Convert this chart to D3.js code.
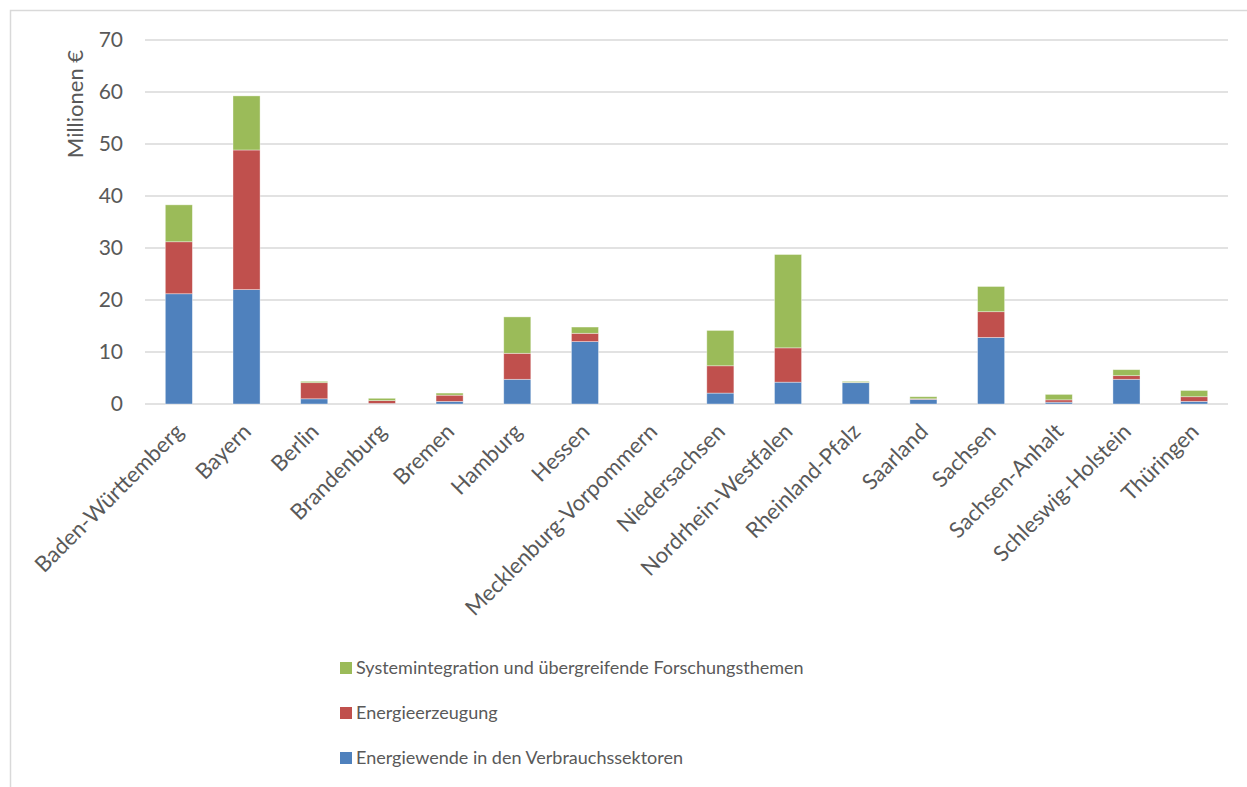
<!DOCTYPE html>
<html>
<head>
<meta charset="utf-8">
<script src="https://cdn.jsdelivr.net/npm/d3@7"></script>
<style>
  body { margin: 0; background: #fff; }
  text { font-family: Lato, "Open Sans", sans-serif; fill: #595959; }
</style>
</head>
<body>
<div id="chart"></div>
<script>
var laender = ["Baden-Württemberg", "Bayern", "Berlin", "Brandenburg", "Bremen", "Hamburg",
  "Hessen", "Mecklenburg-Vorpommern", "Niedersachsen", "Nordrhein-Westfalen", "Rheinland-Pfalz",
  "Saarland", "Sachsen", "Sachsen-Anhalt", "Schleswig-Holstein", "Thüringen"];

// Millionen €
var verbrauch = [21.2, 22.0, 1.0, 0.1, 0.5, 4.75, 12.0, 0, 2.1, 4.2, 4.1, 0.9, 12.8, 0.35, 4.75, 0.5];
var erzeugung = [10.0, 26.85, 3.1, 0.55, 1.2, 5.0, 1.6, 0, 5.25, 6.6, 0.05, 0.1, 4.95, 0.45, 0.7, 0.9];
var system = [7.1, 10.4, 0.26, 0.45, 0.4, 7.0, 1.2, 0, 6.8, 17.95, 0.2, 0.4, 4.85, 1.05, 1.15, 1.2];

var seriesNames = ["Energiewende in den Verbrauchssektoren", "Energieerzeugung",
  "Systemintegration und übergreifende Forschungsthemen"];
var seriesColors = ["#4F81BD", "#C0504D", "#9BBB59"];
var yTicks = [0, 10, 20, 30, 40, 50, 60, 70];

var width = 1247, height = 787;
var margin = {top: 40, right: 19, bottom: 383, left: 145};
var innerW = width - margin.left - margin.right,
    innerH = height - margin.top - margin.bottom;

var table = laender.map(function (d, i) {
  return {land: d, v: verbrauch[i], e: erzeugung[i], s: system[i]};
});
var stack = d3.stack().keys(["v", "e", "s"])(table);

var svg = d3.select("#chart").append("svg")
  .attr("width", width)
  .attr("height", height);

// outer chart frame
svg.append("rect")
  .attr("x", 10.5).attr("y", 10.5)
  .attr("width", width).attr("height", height)
  .attr("fill", "none")
  .attr("stroke", "#D9D9D9")
  .attr("stroke-width", 1.5);

var x = d3.scaleBand().domain(laender).range([0, innerW]).paddingInner(0.6).paddingOuter(0.3);
var y = d3.scaleLinear().domain([0, 70]).range([innerH, 0]);

var g = svg.append("g")
  .attr("transform", "translate(" + margin.left + "," + margin.top + ")");

// gridlines
g.append("g")
  .selectAll("line")
  .data(yTicks)
  .join("line")
  .attr("x1", 0).attr("x2", innerW)
  .attr("y1", function (d) { return y(d); })
  .attr("y2", function (d) { return y(d); })
  .attr("stroke", "#D9D9D9")
  .attr("stroke-width", 1.5);

// y tick labels
var yAxis = g.append("g")
  .attr("transform", "translate(-22,0)")
  .call(d3.axisLeft(y).tickValues(yTicks).tickSize(0).tickPadding(0));
yAxis.select(".domain").remove();
yAxis.selectAll("text")
  .attr("fill", "#595959")
  .style("font-size", "21px")
  .style("font-family", "Lato, 'Open Sans', sans-serif");

// bars
g.append("g")
  .selectAll("g")
  .data(stack)
  .join("g")
  .attr("fill", function (d, i) { return seriesColors[i]; })
  .selectAll("rect")
  .data(function (d) { return d; })
  .join("rect")
  .attr("x", function (d) { return x(d.data.land); })
  .attr("width", x.bandwidth())
  .attr("y", function (d) { return y(d[1]); })
  .attr("height", function (d) { return y(d[0]) - y(d[1]); })
  .attr("stroke", "#fff")
  .attr("stroke-opacity", 0.5)
  .attr("stroke-width", 0.75);

// x labels
var xAxis = g.append("g")
  .attr("transform", "translate(0," + innerH + ")")
  .call(d3.axisBottom(x).tickSize(0).tickPadding(0));
xAxis.select(".domain").remove();
xAxis.selectAll("text")
  .attr("fill", "#595959")
  .style("font-size", "22px")
  .style("font-family", "Lato, 'Open Sans', sans-serif")
  .attr("text-anchor", "end")
  .attr("dy", "0")
  .attr("y", 0)
  .attr("transform", "translate(6,29) rotate(-45)");

// y axis title
svg.append("text")
  .attr("transform", "translate(83,104) rotate(-90)")
  .attr("text-anchor", "middle")
  .style("font-size", "22px")
  .text("Millionen €");

// legend (reverse order, green on top)
var legendRows = [2, 1, 0];
var legend = svg.append("g")
  .selectAll("g")
  .data(legendRows)
  .join("g")
  .attr("transform", function (d, i) { return "translate(340," + (668 + i * 45) + ")"; });

legend.append("rect")
  .attr("x", 0).attr("y", -6)
  .attr("width", 12).attr("height", 12)
  .attr("fill", function (d) { return seriesColors[d]; });

legend.append("text")
  .attr("x", 16)
  .attr("dy", "0.35em")
  .style("font-size", "18px")
  .text(function (d) { return seriesNames[d]; });
</script>
</body>
</html>
